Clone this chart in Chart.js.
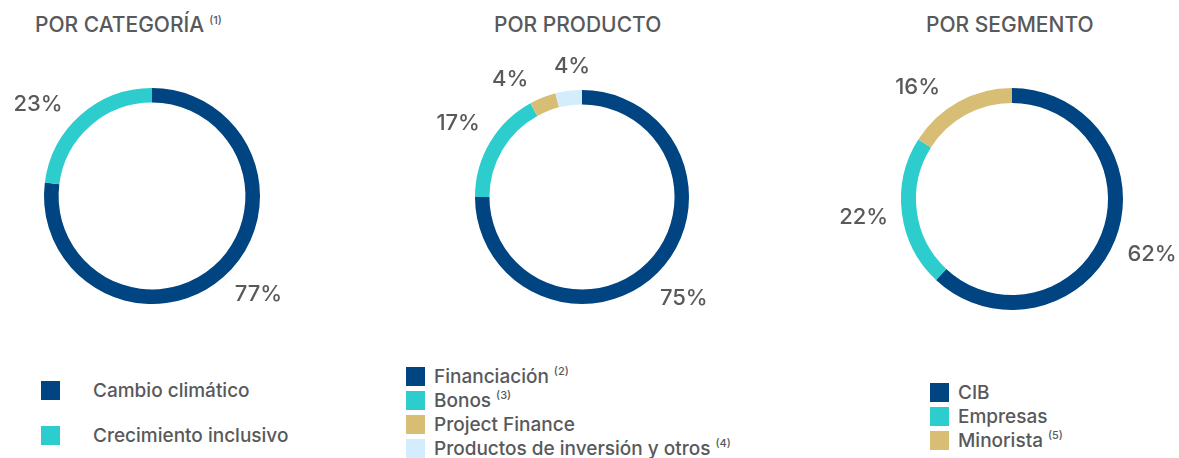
<!DOCTYPE html>
<html lang="es">
<head>
    <meta charset="UTF-8">
    <title>Distribución por categoría, producto y segmento</title>
    <style>
        body {
            margin: 0;
            width: 1179px;
            height: 458px;
            background: #ffffff;
            font-family: Inter, "Open Sans", Arial, sans-serif;
            font-weight: 500;
            color: #58595b;
            position: relative;
            overflow: hidden;
        }
        .titulo {
            position: absolute;
            top: 12px;
            font-size: 21px;
            white-space: nowrap;
        }
        .titulo sup, .leyenda sup {
            font-size: 11px;
            line-height: 0;
            vertical-align: 8px;
            margin-left: 5px;
        }
        canvas {
            position: absolute;
            top: 0;
        }
        .leyenda {
            position: absolute;
            font-size: 19px;
            white-space: nowrap;
        }
        .leyenda .item {
            position: relative;
            height: 24px;
            line-height: 24px;
        }
        .leyenda .caja {
            position: absolute;
            left: 0;
            top: 2px;
            width: 19px;
            height: 19px;
        }
    </style>
    <script src="https://cdn.jsdelivr.net/npm/chart.js"></script>
</head>
<body>
    <div class="titulo" style="left:35px">POR CATEGORÍA<sup>(1)</sup></div>
    <div class="titulo" style="left:494px">POR PRODUCTO</div>
    <div class="titulo" style="left:926px">POR SEGMENTO</div>

    <canvas id="graf1" width="393" height="360" style="left:0px"></canvas>
    <canvas id="graf2" width="393" height="360" style="left:393px"></canvas>
    <canvas id="graf3" width="393" height="360" style="left:786px"></canvas>

    <div id="ley1" class="leyenda" style="left:41px; top:379px"></div>
    <div id="ley2" class="leyenda" style="left:406px; top:365px"></div>
    <div id="ley3" class="leyenda" style="left:930px; top:381px"></div>

    <script>
        // Datos
        const categorias = ['Cambio climático', 'Crecimiento inclusivo'];
        const notasCategorias = ['', ''];
        const valoresCategorias = [77, 23];

        const productos = ['Financiación', 'Bonos', 'Project Finance', 'Productos de inversión y otros'];
        const notasProductos = ['(2)', '(3)', '', '(4)'];
        const valoresProductos = [75, 17, 4, 4];

        const segmentos = ['CIB', 'Empresas', 'Minorista'];
        const notasSegmentos = ['', '', '(5)'];
        const valoresSegmentos = [62, 22, 16];

        const colores = ['#004481', '#2dcccd', '#d8be75', '#d4edfc'];
        const colorTexto = '#58595b';

        // Etiquetas de porcentaje fuera del anillo
        const etiquetasFuera = {
            id: 'etiquetasFuera',
            afterDatasetsDraw(chart, args, opts) {
                const ctx = chart.ctx;
                const meta = chart.getDatasetMeta(0);
                const datos = chart.data.datasets[0].data;
                const ajustes = opts.ajustes || [];
                ctx.save();
                ctx.font = '500 22px Inter, "Open Sans", Arial, sans-serif';
                ctx.fillStyle = colorTexto;
                ctx.textAlign = 'center';
                ctx.textBaseline = 'middle';
                meta.data.forEach((arco, i) => {
                    const p = arco.getProps(['x', 'y', 'startAngle', 'endAngle', 'outerRadius'], true);
                    const ang = (p.startAngle + p.endAngle) / 2 + (ajustes[i] || 0);
                    const texto = datos[i] + '%';
                    const w = ctx.measureText(texto).width;
                    const h = 20;
                    const dx = Math.cos(ang), dy = Math.sin(ang);
                    const d = p.outerRadius + 13 + Math.abs(dx) * w / 2 + Math.abs(dy) * h / 2;
                    ctx.fillText(texto, p.x + dx * d, p.y + dy * d);
                });
                ctx.restore();
            }
        };

        function crearDona(id, etiquetas, valores, cx, cy, radio, ajustes) {
            const canvas = document.getElementById(id);
            const left = parseInt(canvas.style.left);
            const x = cx - left;
            return new Chart(canvas, {
                type: 'doughnut',
                data: {
                    labels: etiquetas,
                    datasets: [{
                        data: valores,
                        backgroundColor: colores.slice(0, valores.length),
                        borderWidth: 0
                    }]
                },
                options: {
                    responsive: false,
                    animation: false,
                    cutout: '86.5%',
                    layout: {
                        padding: {
                            left: x - radio,
                            right: canvas.width - x - radio,
                            top: cy - radio,
                            bottom: canvas.height - cy - radio
                        }
                    },
                    plugins: {
                        legend: { display: false },
                        tooltip: { enabled: false },
                        etiquetasFuera: { ajustes: ajustes }
                    }
                },
                plugins: [etiquetasFuera]
            });
        }

        function crearLeyenda(id, etiquetas, notas, sangria, paso) {
            const cont = document.getElementById(id);
            etiquetas.forEach((et, i) => {
                const item = document.createElement('div');
                item.className = 'item';
                item.style.paddingLeft = sangria + 'px';
                if (paso) item.style.marginBottom = paso + 'px';
                item.innerHTML = '<span class="caja" style="background:' + colores[i] + '"></span>' +
                    et + (notas[i] ? '<sup>' + notas[i] + '</sup>' : '');
                cont.appendChild(item);
            });
        }

        crearDona('graf1', categorias, valoresCategorias, 152, 196, 108, [-0.1, -0.17]);
        crearDona('graf2', productos, valoresProductos, 582, 197, 107, [0, 0, -0.17, 0.05]);
        crearDona('graf3', segmentos, valoresSegmentos, 1012, 199, 111, [0, 0, -0.2]);

        crearLeyenda('ley1', categorias, notasCategorias, 52, 21);
        crearLeyenda('ley2', productos, notasProductos, 28, 0);
        crearLeyenda('ley3', segmentos, notasSegmentos, 28, 0);
    </script>
</body>
</html>
